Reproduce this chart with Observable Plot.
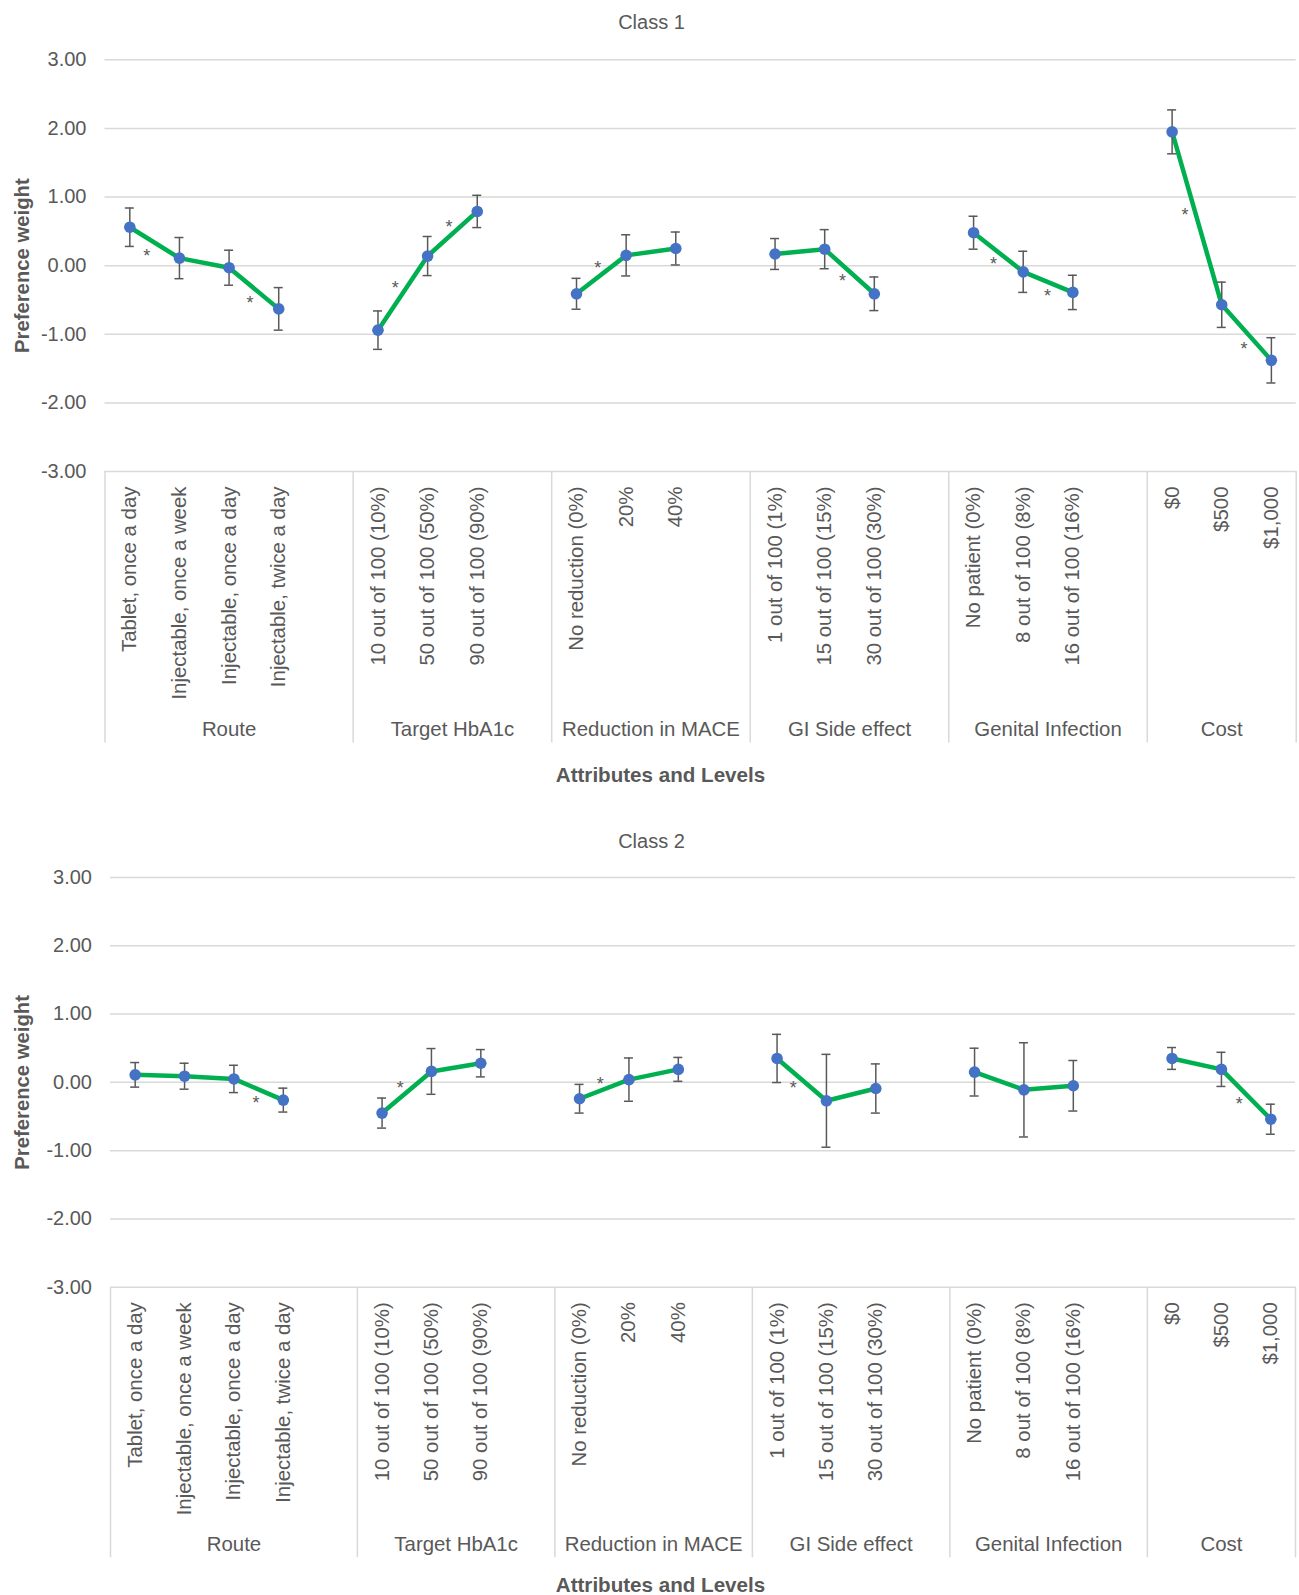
<!DOCTYPE html>
<html>
<head>
<meta charset="utf-8">
<script src="https://cdn.jsdelivr.net/npm/d3@7"></script>
<script src="https://cdn.jsdelivr.net/npm/@observablehq/plot@0.6"></script>
<style>
  html, body { margin: 0; padding: 0; background: #ffffff; }
  body { font-family: "Liberation Sans", Arial, sans-serif; color: #595959; width: 1299px; }
  .panel { position: relative; width: 1299px; }
  .panel svg { position: absolute; left: 0; top: 0; }
  .title { position: absolute; left: 2px; width: 1299px; text-align: center; font-size: 20px; line-height: 24px; z-index: 2; }
  .xlabel { position: absolute; left: 11px; width: 1299px; text-align: center; font-size: 20.6px; line-height: 24px; font-weight: bold; z-index: 2; }
</style>
</head>
<body>
<div id="p1" class="panel" style="height:800px"></div>
<div id="p2" class="panel" style="height:795px"></div>
<script>
// ---------- data ----------
const attributes = ["Route", "Target HbA1c", "Reduction in MACE", "GI Side effect", "Genital Infection", "Cost"];
const attributeSizes = [4, 3, 3, 3, 3, 3];
const levels = [
  "Tablet, once a day", "Injectable, once a week", "Injectable, once a day", "Injectable, twice a day",
  "10 out of 100 (10%)", "50 out of 100 (50%)", "90 out of 100 (90%)",
  "No reduction (0%)", "20%", "40%",
  "1 out of 100 (1%)", "15 out of 100 (15%)", "30 out of 100 (30%)",
  "No patient (0%)", "8 out of 100 (8%)", "16 out of 100 (16%)",
  "$0", "$500", "$1,000"
];
const yTicks = [-3, -2, -1, 0, 1, 2, 3];

const class1Weight = [0.56, 0.11, -0.03, -0.63, -0.94, 0.14, 0.79, -0.41, 0.15, 0.25, 0.17, 0.24, -0.41, 0.48, -0.09, -0.39, 1.95, -0.57, -1.38];
const class1Error  = [0.28, 0.30, 0.255, 0.31, 0.28, 0.285, 0.235, 0.225, 0.30, 0.24, 0.225, 0.285, 0.245, 0.24, 0.30, 0.25, 0.32, 0.33, 0.33];
// significance markers: position along the category axis (slot units) and weight
const class1StarSlot   = [0.84, 2.92, 5.85, 6.93, 9.93, 14.86, 17.90, 18.99, 21.76, 22.95];
const class1StarWeight = [0.21, -0.48, -0.26, 0.63, 0.03, -0.16, 0.10, -0.37, 0.81, -1.14];

const class2Weight = [0.11, 0.09, 0.05, -0.26, -0.45, 0.16, 0.28, -0.24, 0.04, 0.19, 0.35, -0.27, -0.09, 0.15, -0.11, -0.05, 0.35, 0.19, -0.54];
const class2Error  = [0.18, 0.19, 0.20, 0.175, 0.22, 0.335, 0.20, 0.21, 0.317, 0.175, 0.353, 0.68, 0.36, 0.35, 0.69, 0.37, 0.16, 0.25, 0.22];
const class2StarSlot   = [2.945, 5.87, 9.92, 13.83, 22.86];
const class2StarWeight = [-0.23, -0.01, 0.04, -0.01, -0.24];

// ---------- build category layout (one blank slot after each attribute but the last) ----------
function buildLayout() {
  const levelSlot = [], levelAttr = [], groups = [], boundaries = [0];
  let slot = 0;
  attributes.forEach((a, g) => {
    const start = slot;
    for (let k = 0; k < attributeSizes[g]; k++) {
      levelSlot.push(slot + k + 0.5);
      levelAttr.push(a);
    }
    slot += attributeSizes[g] + (g < attributes.length - 1 ? 1 : 0);
    groups.push({attribute: a, center: (start + slot) / 2});
    boundaries.push(slot);
  });
  return {levelSlot, levelAttr, groups, boundaries, total: slot};
}
const layout = buildLayout();

const GRID = "#d9d9d9";
const TEXT = "#595959";

function drawPanel(container, cfg) {
  const rows = levels.map((level, i) => ({
    level,
    attribute: layout.levelAttr[i],
    slot: layout.levelSlot[i],
    w: cfg.weights[i],
    e: cfg.errors[i]
  }));
  const stars = cfg.starSlot.map((s, i) => ({slot: s, w: cfg.starWeight[i]}));

  const plot = Plot.plot({
    width: 1299,
    height: cfg.height,
    marginTop: cfg.marginTop,
    marginBottom: cfg.marginBottom,
    marginLeft: cfg.marginLeft,
    marginRight: cfg.marginRight,
    style: {fontFamily: '"Liberation Sans", Arial, sans-serif', fontSize: "20px", color: TEXT, background: "#ffffff", overflow: "visible"},
    x: {domain: [0, layout.total], axis: null},
    y: {domain: [-3, 3], ticks: yTicks, tickFormat: d => d.toFixed(2), tickSize: 0, tickPadding: 18.5, label: null},
    marks: [
      Plot.ruleY(yTicks, {y: d => d, stroke: GRID, strokeWidth: 1.5}),
      Plot.ruleX(layout.boundaries, {x: d => d, y1: () => -3, y2: () => -3, insetBottom: -cfg.sepLength, stroke: GRID, strokeWidth: 1.5}),
      Plot.line(rows, {x: "slot", y: "w", z: "attribute", stroke: "#00b050", strokeWidth: 4.5, strokeLinejoin: "round"}),
      Plot.ruleX(rows, {x: "slot", y1: d => d.w - d.e, y2: d => d.w + d.e, stroke: TEXT, strokeWidth: 1.5}),
      Plot.ruleY(rows, {y: d => d.w + d.e, x1: "slot", x2: "slot", insetLeft: -4.5, insetRight: -4.5, stroke: TEXT, strokeWidth: 1.5}),
      Plot.ruleY(rows, {y: d => d.w - d.e, x1: "slot", x2: "slot", insetLeft: -4.5, insetRight: -4.5, stroke: TEXT, strokeWidth: 1.5}),
      Plot.dot(rows, {x: "slot", y: "w", r: 5.8, fill: "#4472c4", stroke: "none"}),
      Plot.text(stars, {x: "slot", y: "w", text: () => "*", fontSize: 18, dy: 5, fill: TEXT}),
      Plot.text(rows, {x: "slot", text: "level", frameAnchor: "bottom", rotate: -90, textAnchor: "end", lineAnchor: "middle", dy: 15, fontSize: 20.4, fill: TEXT}),
      Plot.text(layout.groups, {x: "center", text: "attribute", frameAnchor: "bottom", textAnchor: "middle", dy: cfg.groupLabelOffset, fontSize: 20.4, fill: TEXT}),
      Plot.text(["Preference weight"], {frameAnchor: "left", textAnchor: "middle", lineAnchor: "middle", rotate: -90, dx: 21.5 - cfg.marginLeft, fontWeight: "bold", fontSize: 20.3, fill: TEXT})
    ]
  });
  container.appendChild(plot);

  const t = document.createElement("div");
  t.className = "title";
  t.style.top = cfg.titleTop + "px";
  t.textContent = cfg.title;
  container.appendChild(t);

  const xl = document.createElement("div");
  xl.className = "xlabel";
  xl.style.top = cfg.xlabelTop + "px";
  xl.textContent = "Attributes and Levels";
  container.appendChild(xl);
}

drawPanel(document.getElementById("p1"), {
  title: "Class 1",
  weights: class1Weight, errors: class1Error,
  starSlot: class1StarSlot, starWeight: class1StarWeight,
  height: 800, marginTop: 59.3, marginBottom: 329, marginLeft: 104.5, marginRight: 3.3,
  sepLength: 271.5, groupLabelOffset: 264, titleTop: 10, xlabelTop: 763
});
drawPanel(document.getElementById("p2"), {
  title: "Class 2",
  weights: class2Weight, errors: class2Error,
  starSlot: class2StarSlot, starWeight: class2StarWeight,
  height: 795, marginTop: 77, marginBottom: 308.3, marginLeft: 110, marginRight: 4,
  sepLength: 270.5, groupLabelOffset: 264, titleTop: 28.5, xlabelTop: 772.5
});
</script>
</body>
</html>
